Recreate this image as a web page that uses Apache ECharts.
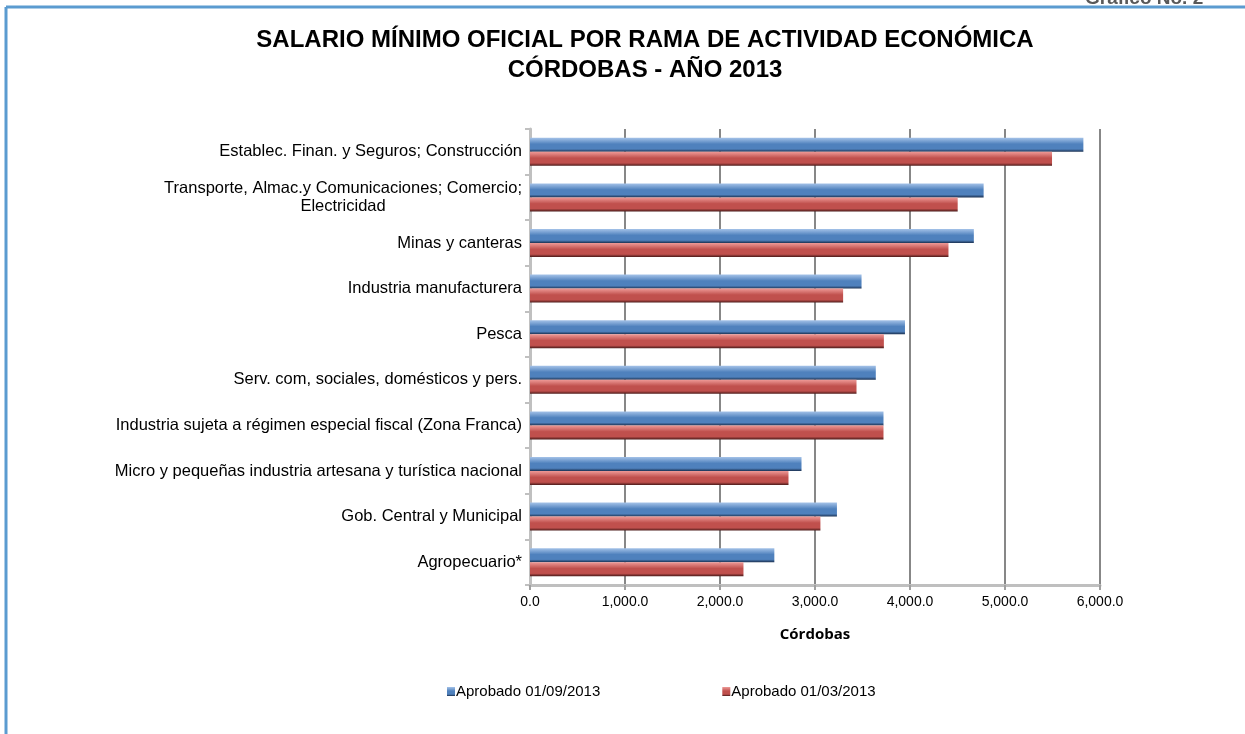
<!DOCTYPE html>
<html>
<head>
<meta charset="utf-8">
<script src="https://cdn.jsdelivr.net/npm/echarts@6/dist/echarts.min.js"></script>
<style>
  html, body { margin: 0; padding: 0; background: #fff; }
  #chart { width: 1245px; height: 734px; }
</style>
</head>
<body>
<div id="chart"></div>
<script>
const categories = [
  "Establec. Finan. y Seguros; Construcción",
  "Transporte, Almac.y Comunicaciones; Comercio;\nElectricidad",
  "Minas y canteras",
  "Industria manufacturera",
  "Pesca",
  "Serv. com, sociales, domésticos y pers.",
  "Industria sujeta a régimen especial fiscal (Zona Franca)",
  "Micro y pequeñas industria artesana y turística nacional",
  "Gob. Central y Municipal",
  "Agropecuario*",
];
const septValues = [5825, 4775, 4672, 3490, 3947, 3640, 3721, 2858, 3231, 2572];
const marchValues = [5495, 4502, 4405, 3296, 3725, 3437, 3721, 2721, 3057, 2247];
const seriesNames = ["Aprobado 01/09/2013", "Aprobado 01/03/2013"];

const grad = (light, mid, dark) => new echarts.graphic.LinearGradient(0, 0, 0, 1, [
  { offset: 0, color: light }, { offset: 0.45, color: mid }, { offset: 0.8, color: mid }, { offset: 1, color: dark },
]);
const BLUE = "#4f81bd";
const RED = "#c0504d";
const FONT = "Liberation Sans, Arial, sans-serif";

const chart = echarts.init(document.getElementById("chart"), null, { renderer: "canvas" });
chart.setOption({
  animation: false,
  title: {
    text: "SALARIO MÍNIMO OFICIAL POR RAMA DE ACTIVIDAD ECONÓMICA\nCÓRDOBAS - AÑO 2013",
    left: 640, top: 20, textAlign: "center",
    textStyle: { fontFamily: FONT, fontSize: 24, fontWeight: "bold", color: "#000", lineHeight: 30 },
  },
  graphic: [
    { type: "line", shape: { x1: 6, y1: 7, x2: 1245, y2: 7 }, style: { stroke: "#5b9bd0", lineWidth: 3 } },
    { type: "line", shape: { x1: 6, y1: 7, x2: 6, y2: 734 }, style: { stroke: "#5b9bd0", lineWidth: 3 } },
    { type: "text", left: 1085, top: -11, style: { text: "Gráfico No. 2", font: "bold 19px Liberation Sans, Arial, sans-serif", fill: "#595959" } },
  ],
  legend: {
    data: seriesNames, bottom: 30, left: 442, itemGap: 122, itemWidth: 8, itemHeight: 9,
    icon: "rect",
    textStyle: { fontFamily: FONT, fontSize: 15, color: "#000", padding: [0, 0, 0, -4] },
  },
  grid: { left: 530, right: 145, top: 129, bottom: 149, containLabel: false },
  xAxis: {
    type: "value", min: 0, max: 6000, interval: 1000,
    name: "Córdobas", nameLocation: "middle", nameGap: 42,
    nameTextStyle: { fontFamily: "Open Sans, Liberation Sans, sans-serif", fontSize: 15, fontWeight: "bold", color: "#000" },
    axisLine: { show: true, lineStyle: { color: "#bfbfbf", width: 3 } },
    axisTick: { show: true, length: 5, lineStyle: { color: "#a0a0a0", width: 2 } },
    axisLabel: { fontFamily: FONT, fontSize: 14, color: "#000", margin: 10, formatter: (v) => v.toLocaleString("en-US", { minimumFractionDigits: 1, maximumFractionDigits: 1 }) },
    splitLine: { show: true, lineStyle: { color: "#878787", width: 2 } },
  },
  yAxis: {
    type: "category", data: categories, inverse: true,
    axisLine: { show: true, lineStyle: { color: "#c0c0c0", width: 3 } },
    axisTick: { show: true, length: 5, lineStyle: { color: "#c0c0c0", width: 2 } },
    axisLabel: {
      fontFamily: FONT, fontSize: 16.5, color: "#000", margin: 8, lineHeight: 18,
      formatter: (v) => v.includes("\n") ? v.split("\n")[0] + "\n{c|" + v.split("\n")[1] + "}" : v,
      rich: { c: { align: "center", fontFamily: FONT, fontSize: 16.5, color: "#000" } },
    },
  },
  series: [
    { name: seriesNames[0], type: "bar", data: septValues, barWidth: 14, barGap: "0%",
      itemStyle: { color: grad("#a4c2e8", BLUE, "#1a3050") } },
    { name: seriesNames[1], type: "bar", data: marchValues, barWidth: 14,
      itemStyle: { color: grad("#ee9a97", RED, "#4a1a19") } },
  ],
});
</script>
</body>
</html>
